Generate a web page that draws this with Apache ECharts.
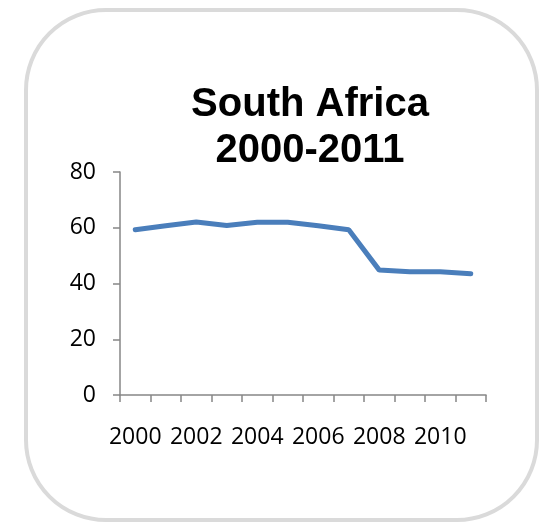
<!DOCTYPE html>
<html>
<head>
<meta charset="utf-8">
<script src="https://cdn.jsdelivr.net/npm/echarts@6/dist/echarts.min.js"></script>
<style>
html,body{margin:0;padding:0;background:#fff;}
#c{width:545px;height:523px;}
</style>
</head>
<body>
<div id="c"></div>
<script>
const years = ['2000','2001','2002','2003','2004','2005','2006','2007','2008','2009','2010','2011'];
const values = [59.3, 60.7, 62.1, 60.8, 62.0, 62.0, 60.7, 59.3, 44.8, 44.2, 44.2, 43.5];
const titleLines = ['South Africa', '2000-2011'];
const yMin = 0, yMax = 80, yStep = 20;

const chart = echarts.init(document.getElementById('c'), null, {renderer: 'canvas'});
chart.setOption({
  backgroundColor: '#ffffff',
  animation: false,
  graphic: [{
    type: 'rect',
    shape: {x: 26, y: 10, width: 511, height: 510, r: 80},
    style: {fill: 'none', stroke: '#dadada', lineWidth: 4},
    z: -1
  }],
  title: {
    text: titleLines.join('\n'),
    left: 305,
    top: 77,
    textAlign: 'center',
    textStyle: {
      fontFamily: '"Liberation Sans", Arial, sans-serif',
      fontWeight: 'bold',
      fontSize: 40,
      lineHeight: 46,
      color: '#000'
    }
  },
  grid: {left: 120, right: 59, top: 172, bottom: 128, containLabel: false},
  xAxis: {
    type: 'category',
    data: years,
    boundaryGap: true,
    axisLine: {lineStyle: {color: '#868686', width: 1.5}},
    axisTick: {show: true, length: 7, interval: 0, alignWithLabel: false, lineStyle: {color: '#868686', width: 1.5}},
    axisLabel: {interval: 1, margin: 31, fontFamily: '"Open Sans", sans-serif', fontSize: 23, color: '#000'},
    splitLine: {show: false}
  },
  yAxis: {
    type: 'value',
    min: yMin, max: yMax, interval: yStep,
    axisLine: {show: true, lineStyle: {color: '#868686', width: 1.5}},
    axisTick: {show: true, length: 7, lineStyle: {color: '#868686', width: 1.5}},
    axisLabel: {margin: 24, fontFamily: '"Open Sans", sans-serif', fontSize: 23, color: '#000'},
    splitLine: {show: false}
  },
  series: [{
    type: 'line',
    data: values,
    showSymbol: false,
    symbol: 'none',
    lineStyle: {color: '#4a7ebb', width: 5, cap: 'round'},
    itemStyle: {color: '#4a7ebb'}
  }]
});
</script>
</body>
</html>
